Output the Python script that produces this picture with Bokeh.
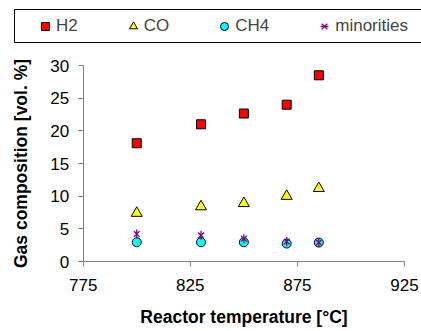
import math
from bokeh.plotting import figure
from bokeh.models import Legend, LegendItem, Range1d, FixedTicker, BoxAnnotation
from bokeh.embed import file_html
from bokeh.resources import INLINE

# ---- data ----
temps = [800, 830, 850, 870, 885]
h2 = [18.1, 21.0, 22.65, 24.0, 28.5]
co = [7.4, 8.4, 8.9, 10.0, 11.2]
ch4 = [2.95, 2.95, 2.95, 2.75, 2.9]
minorities = [4.2, 4.0, 3.5, 3.05, 2.9]
x_ticks = [775, 825, 875, 925]
y_ticks = [0, 5, 10, 15, 20, 25, 30]
series_names = ["H2", "CO", "CH4", "minorities"]

FONT = "Liberation Sans"
PURPLE = "#800080"

# frame covers the whole canvas; axes are placed at fixed data locations
p = figure(width=421, height=331, output_backend="svg", toolbar_location=None,
           x_range=Range1d(736.39, 932.94), y_range=Range1d(-10.714, 39.949),
           min_border_left=0, min_border_right=0, min_border_top=0, min_border_bottom=0)
p.outline_line_color = None
p.grid.visible = False

r_h2 = p.scatter(temps, h2, marker="square", size=9, fill_color="#FF0000",
                 line_color="#000000", line_width=1)
r_co = p.scatter(temps, co, marker="triangle", size=11, fill_color="#FFFF00",
                 line_color="#000000", line_width=1)
r_ch4 = p.scatter(temps, ch4, marker="circle", size=9, fill_color="#00FFFF",
                  line_color="#000000", line_width=1)
r_mx = p.scatter(temps, minorities, marker="x", size=8, line_color=PURPLE, line_width=1.3)
r_md = p.scatter(temps, minorities, marker="dash", size=9, angle=math.pi / 2,
                 line_color=PURPLE, line_width=1.3)

for ax in (p.xaxis[0], p.yaxis[0]):
    ax.axis_line_color = "#7f7f7f"
    ax.axis_line_width = 1
    ax.major_tick_line_color = "#7f7f7f"
    ax.major_tick_in = 0
    ax.major_tick_out = 5
    ax.minor_tick_line_color = None
    ax.major_label_text_font = FONT
    ax.major_label_text_font_size = "17px"
    ax.major_label_text_color = "#000000"
    ax.axis_label_text_font = FONT
    ax.axis_label_text_font_style = "bold"
    ax.axis_label_text_font_size = "17.5px"
    ax.axis_label_text_color = "#000000"

p.xaxis[0].ticker = FixedTicker(ticks=x_ticks)
p.yaxis[0].ticker = FixedTicker(ticks=y_ticks)
p.xaxis[0].bounds = (x_ticks[0], x_ticks[-1])
p.yaxis[0].bounds = (y_ticks[0], y_ticks[-1])
p.yaxis[0].fixed_location = x_ticks[0]
p.xaxis[0].fixed_location = y_ticks[0]
p.xaxis[0].axis_label = "Reactor temperature [°C]"
p.yaxis[0].axis_label = "Gas composition [vol. %]"
p.xaxis[0].major_label_standoff = 12
p.yaxis[0].major_label_standoff = 9
p.xaxis[0].axis_label_standoff = 13
p.yaxis[0].axis_label_standoff = 17

# legend box
box = BoxAnnotation(left=14, right=440, top=9, bottom=42,
                    left_units="canvas", right_units="canvas",
                    top_units="canvas", bottom_units="canvas",
                    fill_color="white", fill_alpha=1.0,
                    line_color="#000000", line_width=1, line_alpha=1.0)
p.add_layout(box)

items = [LegendItem(label=series_names[0], renderers=[r_h2]),
         LegendItem(label=series_names[1], renderers=[r_co]),
         LegendItem(label=series_names[2], renderers=[r_ch4]),
         LegendItem(label=series_names[3], renderers=[r_mx, r_md])]
legend = Legend(items=items, orientation="horizontal", location=(35, 295),
                border_line_color=None, background_fill_alpha=0,
                padding=0, margin=0, spacing=45, glyph_width=20, glyph_height=20,
                label_standoff=1, label_text_font=FONT, label_text_font_size="17px",
                label_height=20)
p.add_layout(legend, "center")

open("out.html", "w").write(file_html(p, INLINE))
